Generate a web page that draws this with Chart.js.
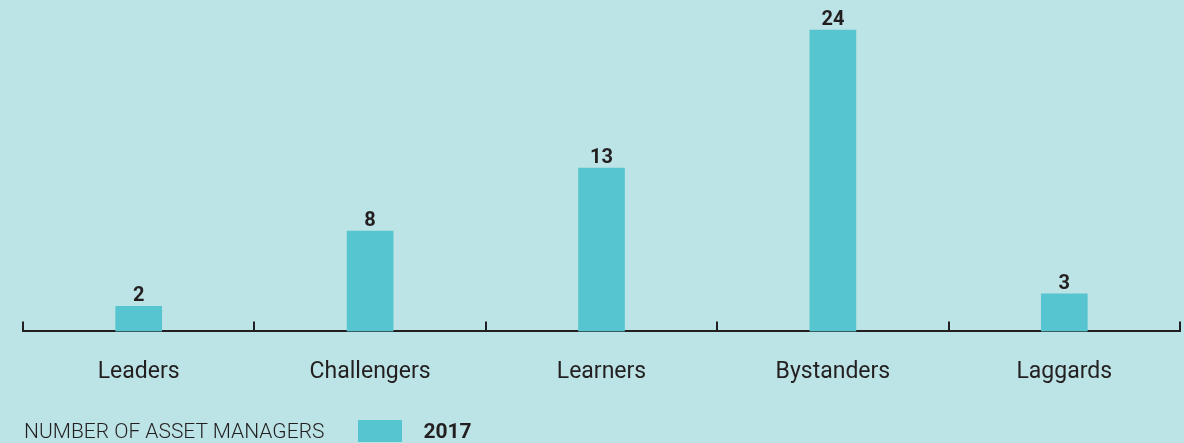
<!DOCTYPE html>
<html>
<head>
<meta charset="utf-8">
<script src="https://cdn.jsdelivr.net/npm/chart.js@4"></script>
<style>
  body { margin: 0; background: #bce3e5; }
  .wrap { position: relative; width: 1184px; height: 443px; }
  .legend { position: absolute; left: 24px; top: 418px; height: 26px; display: flex; align-items: center;
    font-family: Roboto, sans-serif; color: #231f20; font-size: 21px; font-weight: 300; }
  .legend .box { width: 44px; height: 22px; background: #56c5cf; margin-left: 34px; margin-right: 21px; }
  .legend b { font-weight: 700; }
</style>
</head>
<body>
<div class="wrap">
  <canvas id="myChart" width="1184" height="443"></canvas>
  <div class="legend"><span>NUMBER OF ASSET MANAGERS</span><span class="box"></span><b>2017</b></div>
</div>
<script>
const categories = ["Leaders", "Challengers", "Learners", "Bystanders", "Laggards"];
const values2017 = [2, 8, 13, 24, 3];

// value labels above bars
const valueLabels = {
  id: "valueLabels",
  afterDatasetsDraw(chart) {
    const c = chart.ctx;
    c.save();
    c.font = "bold 20px Roboto, sans-serif";
    c.fillStyle = "#231f20";
    c.textAlign = "center";
    c.textBaseline = "alphabetic";
    chart.getDatasetMeta(0).data.forEach((bar, i) => {
      c.fillText(values2017[i], bar.x, bar.y - 5);
    });
    c.restore();
  }
};

// upward ticks between the categories
const upTicks = {
  id: "upTicks",
  afterDraw(chart) {
    const x = chart.scales.x, c = chart.ctx, bottom = chart.chartArea.bottom;
    const step = x.getPixelForValue(1) - x.getPixelForValue(0);
    c.save();
    c.strokeStyle = "#231f20";
    c.lineWidth = 2;
    for (let i = 0; i <= categories.length; i++) {
      const px = Math.round(x.getPixelForValue(0) - step / 2 + i * step);
      c.beginPath();
      c.moveTo(px, bottom);
      c.lineTo(px, bottom - 10);
      c.stroke();
    }
    c.restore();
  }
};

new Chart(document.getElementById("myChart"), {
  type: "bar",
  data: {
    labels: categories,
    datasets: [{
      label: "2017",
      data: values2017,
      backgroundColor: "#56c5cf",
      barThickness: 46
    }]
  },
  options: {
    responsive: false,
    animation: false,
    layout: { padding: { left: 23, right: 4, top: 10, bottom: 30 } },
    plugins: { legend: { display: false }, tooltip: { enabled: false } },
    scales: {
      y: { display: false, min: 0, max: 25.6 },
      x: {
        grid: { display: false, drawTicks: false },
        border: { display: true, color: "#231f20", width: 2 },
        ticks: { color: "#231f20", font: { family: "Roboto, sans-serif", size: 23 }, padding: 27 }
      }
    }
  },
  plugins: [valueLabels, upTicks]
});
</script>
</body>
</html>
